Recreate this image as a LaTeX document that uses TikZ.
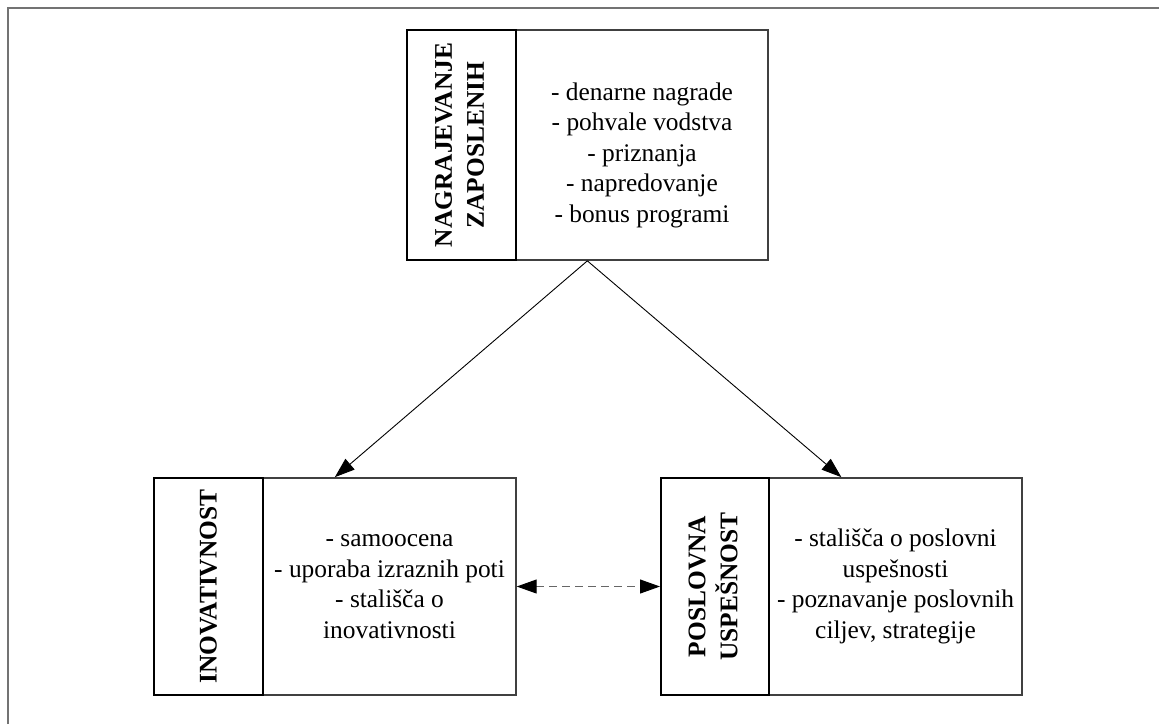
\documentclass[tikz,border=0pt]{standalone}
\usepackage{xcolor}
\usepackage{fontspec}
\setmainfont{Liberation Serif}
\usepackage{tikz}
\usetikzlibrary{arrows.meta}
\usetikzlibrary{calc}
\tikzset{
  font={\fontsize{25.4pt}{30.5pt}\selectfont}}

\begin{document}
\begin{tikzpicture}[x=1pt, y=-1pt]

    \tikzset{edge/.style = {-{Triangle[length=20pt, width=14pt]}, line width=0.9pt}}
    \tikzset{dashedge/.style = {{Triangle[length=20pt, width=14pt, color=black]}-{Triangle[length=20pt, width=14pt, color=black]}, line width=1pt, draw=black!60, dash pattern=on 8pt off 5pt}}
    \tikzset{content/.style = {draw=black!75, line width=1.4pt, align=center, inner sep=0pt}}
    \tikzset{label/.style = {draw=black, line width=2pt, align=center, inner sep=0pt, font={\fontsize{25.4pt}{32pt}\selectfont\bfseries}}}

    \useasboundingbox (0,0) rectangle (1159,724);
    % frame
    \draw[black!55, line width=2pt] (8,724) -- (8,8) -- (1159,8);

    % vertices
    \node[content, minimum width=252pt, minimum height=230pt] (nb)
        at (642,145) {\rule{0pt}{38pt}- denarne nagrade\\- pohvale vodstva\\- priznanja\\- napredovanje\\- bonus programi};
    \node[label, minimum width=109pt, minimum height=230pt] (na)
        at (461.5,145) {\rotatebox{90}{\begin{tabular}{@{}c@{}}NAGRAJEVANJE\\ZAPOSLENIH\end{tabular}}};
    \node[content, minimum width=253pt, minimum height=217pt] (ib)
        at (389.5,586.5) {- samoocena\\- uporaba izraznih poti\\- stališča o\\inovativnosti};
    \node[label, minimum width=109pt, minimum height=217pt] (ia)
        at (208.5,586.5) {\rotatebox{90}{INOVATIVNOST}};
    \node[content, minimum width=253pt, minimum height=217pt] (pb)
        at (895.5,586.5) {- stališča o poslovni\\uspešnosti\\- poznavanje poslovnih\\ciljev, strategije};
    \node[label, minimum width=108pt, minimum height=217pt] (pa)
        at (715,586.5) {\rotatebox{90}{\begin{tabular}{@{}c@{}}POSLOVNA\\USPEŠNOST\end{tabular}}};

    %edges
    \draw[edge] ($(na.south west)!0.5!(nb.south east)$) -- ($(ia.north west)!0.5!(ib.north east)$);
    \draw[edge] ($(na.south west)!0.5!(nb.south east)$) -- ($(pa.north west)!0.5!(pb.north east)$);
    \draw[dashedge] (ib.east) -- (pa.west);

\end{tikzpicture}
\end{document}
